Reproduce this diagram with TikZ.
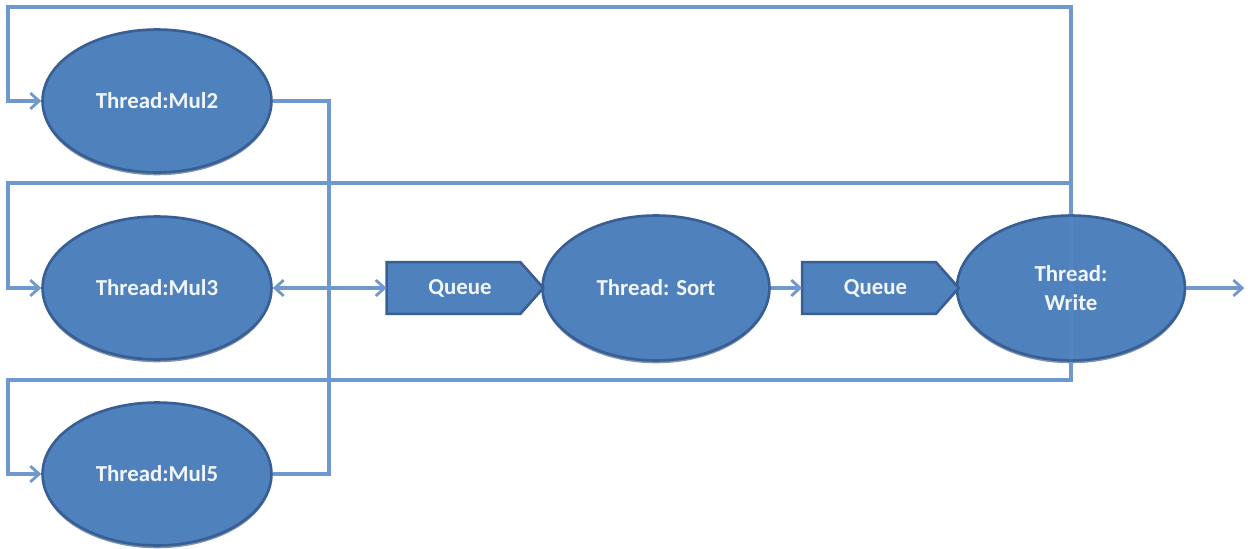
\documentclass[tikz,border=0pt]{standalone}
\usepackage{fontspec}
\setmainfont{Carlito}
\usetikzlibrary{arrows.meta,shapes.geometric,shadows}
\definecolor{fillblue}{HTML}{4F81BD}
\definecolor{edgeblue}{HTML}{385F95}
\definecolor{linkblue}{HTML}{6F98CE}
\definecolor{txtwhite}{HTML}{F2F6FB}
\tikzset{
  thread/.style={ellipse, fill=fillblue, draw=edgeblue, line width=1.5pt,
    drop shadow={shadow xshift=0pt, shadow yshift=-1.6pt, fill=edgeblue!80!black, opacity=0.6},
    minimum width=4.58cm, minimum height=2.86cm, inner sep=0pt,
    text=txtwhite, font=\bfseries\fontsize{13}{16.5}\selectfont, align=center},
  queuearea/.style={rectangle, minimum width=3.12cm, minimum height=1.02cm, inner sep=0pt},
  queueshape/.style={fill=fillblue, draw=edgeblue, line width=1.5pt, line join=miter},
  queuetext/.style={text=txtwhite, font=\bfseries\fontsize{13}{16}\selectfont, inner sep=0pt},
  link/.style={draw=linkblue, line width=2.1pt},
  arr/.style={link, -{Straight Barb[length=5pt,width=9pt,line width=1.6pt]}},
  dblarr/.style={link, {Straight Barb[length=5pt,width=9pt,line width=1.6pt]}-{Straight Barb[length=5pt,width=9pt,line width=1.6pt]}}
}
\begin{document}
\begin{tikzpicture}[x=0.02cm,y=-0.02cm]
\useasboundingbox (0,0) rectangle (1248,548);
% connectors (behind)
\coordinate (top) at (1071,7);
\coordinate (mid) at (1071,183);
\coordinate (bot) at (1071,380);
\coordinate (join) at (329,288);
\draw[link] (top) -- (bot);
\node[thread] (mul2) at (157,101) {Thread:Mul2};
\node[thread] (mul3) at (157,288) {Thread:Mul3};
\node[thread] (mul5) at (157,474) {Thread:Mul5};
\node[thread, minimum width=4.54cm, minimum height=2.9cm] (sort) at (656,288) {Thread: Sort};
\node[thread, minimum width=4.56cm, minimum height=2.9cm] (write) at (1071,288) {Thread:\\Write};
\draw[link, opacity=0.2] (write.north) -- (write.south);
% queues
\node[queuearea] (q1) at (465,288) {};
\node[queuearea] (q2) at (880.5,288) {};
\foreach \q in {q1,q2}{
  \draw[queueshape] (\q.north west) -- ([xshift=-0.46cm]\q.north east) -- (\q.east)
    -- ([xshift=-0.46cm]\q.south east) -- (\q.south west) -- cycle;
}
\node[queuetext] (q1t) at ([xshift=-0.1cm]q1.center) {Queue};
\node[queuetext] (q2t) at ([xshift=-0.1cm]q2.center) {Queue};
% feedback loops
\draw[arr] (write.north) |- (8,7) |- (mul2.west);
\draw[arr] (mid) -- (8,183) |- (mul3.west);
\draw[arr] (write.south) |- (8,380) |- (mul5.west);
\draw[link] (mul2.east) -| (join);
\draw[link] (mul5.east) -| (join);
\draw[dblarr] (mul3.east) -- (q1.west);
\draw[arr] (sort.east) -- (q2.west);
\draw[arr] (write.east) -- ++(58,0) coordinate (out);
\end{tikzpicture}
\end{document}
